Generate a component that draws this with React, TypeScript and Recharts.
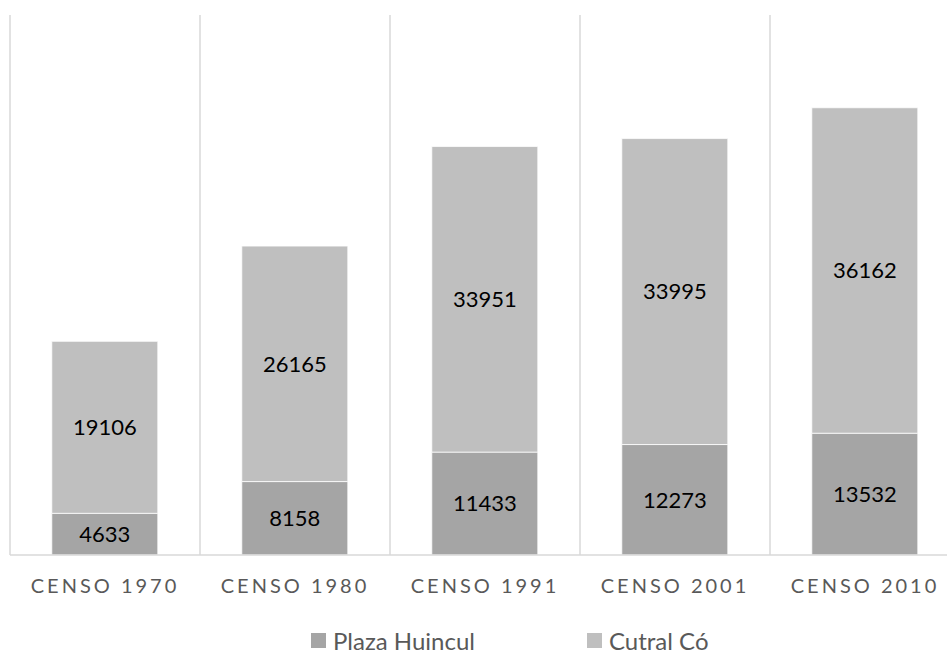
import React from 'react';
import { BarChart, Bar, XAxis, YAxis, CartesianGrid, Legend, LabelList } from 'recharts';

const categories = ['CENSO 1970', 'CENSO 1980', 'CENSO 1991', 'CENSO 2001', 'CENSO 2010'];
const plazaHuincul = [4633, 8158, 11433, 12273, 13532];
const cutralCo = [19106, 26165, 33951, 33995, 36162];
const seriesNames = ['Plaza Huincul', 'Cutral Có'];
const seriesColors = ['#a5a5a5', '#bfbfbf'];

const data = categories.map((c, i) => ({
  name: c,
  plaza: plazaHuincul[i],
  cutral: cutralCo[i],
}));

const FONT = "Lato, 'Open Sans', sans-serif";

const CategoryTick = (props: any) => {
  const { x, y, payload } = props;
  return (
    <text
      x={x}
      y={y}
      dy={38}
      textAnchor="middle"
      fill="#595959"
      fontSize={20}
      letterSpacing={3}
      fontFamily={FONT}
    >
      {payload.value}
    </text>
  );
};

const legendLefts = [301, 577];

const LegendContent = (props: any) => {
  const payload = props.payload || [];
  const items = seriesNames.map((n) => payload.find((p: any) => p.value === n)).filter(Boolean);
  return (
    <div style={{ position: 'relative', height: 30, fontFamily: FONT, fontSize: 24, color: '#595959' }}>
      {items.map((p: any, i: number) => (
        <div
          key={p.value}
          style={{
            position: 'absolute',
            left: legendLefts[i],
            top: 0,
            height: 30,
            display: 'flex',
            alignItems: 'center',
            whiteSpace: 'nowrap',
          }}
        >
          <span style={{ display: 'inline-block', width: 15, height: 15, background: p.color, marginRight: 7 }} />
          {p.value}
        </div>
      ))}
    </div>
  );
};

const gridXs = ({ offset }: any) => {
  const xs: number[] = [];
  for (let i = 0; i <= categories.length; i++) {
    xs.push(offset.left + (i * offset.width) / categories.length);
  }
  return xs;
};

export default function App() {
  return (
    <div style={{ position: 'absolute', left: 0, top: 0, width: 947, height: 664, overflow: 'hidden', background: '#fff' }}>
      <BarChart
        width={960}
        height={664}
        data={data}
        margin={{ top: 15, right: 0, left: 10, bottom: 39 }}
        barCategoryGap="22%"
      >
        <CartesianGrid
          horizontal={false}
          vertical={true}
          stroke="#d9d9d9"
          strokeWidth={1.5}
          verticalCoordinatesGenerator={gridXs}
        />
        <XAxis
          dataKey="name"
          height={40}
          tickLine={false}
          tickSize={0}
          tickMargin={0}
          axisLine={{ stroke: '#d9d9d9', strokeWidth: 1.5 }}
          tick={<CategoryTick />}
          interval={0}
        />
        <YAxis hide domain={[0, 60000]} />
        <Legend
          verticalAlign="bottom"
          content={<LegendContent />}
          wrapperStyle={{ top: 625, bottom: 'auto', height: 30 }}
        />
        <Bar dataKey="plaza" name={seriesNames[0]} stackId="a" fill={seriesColors[0]} stroke="#ffffff" strokeWidth={0.75} isAnimationActive={false}>
          <LabelList dataKey="plaza" position="center" fill="#000" fontSize={22} fontFamily={FONT} />
        </Bar>
        <Bar dataKey="cutral" name={seriesNames[1]} stackId="a" fill={seriesColors[1]} stroke="#ffffff" strokeWidth={0.75} isAnimationActive={false}>
          <LabelList dataKey="cutral" position="center" fill="#000" fontSize={22} fontFamily={FONT} />
        </Bar>
      </BarChart>
    </div>
  );
}
